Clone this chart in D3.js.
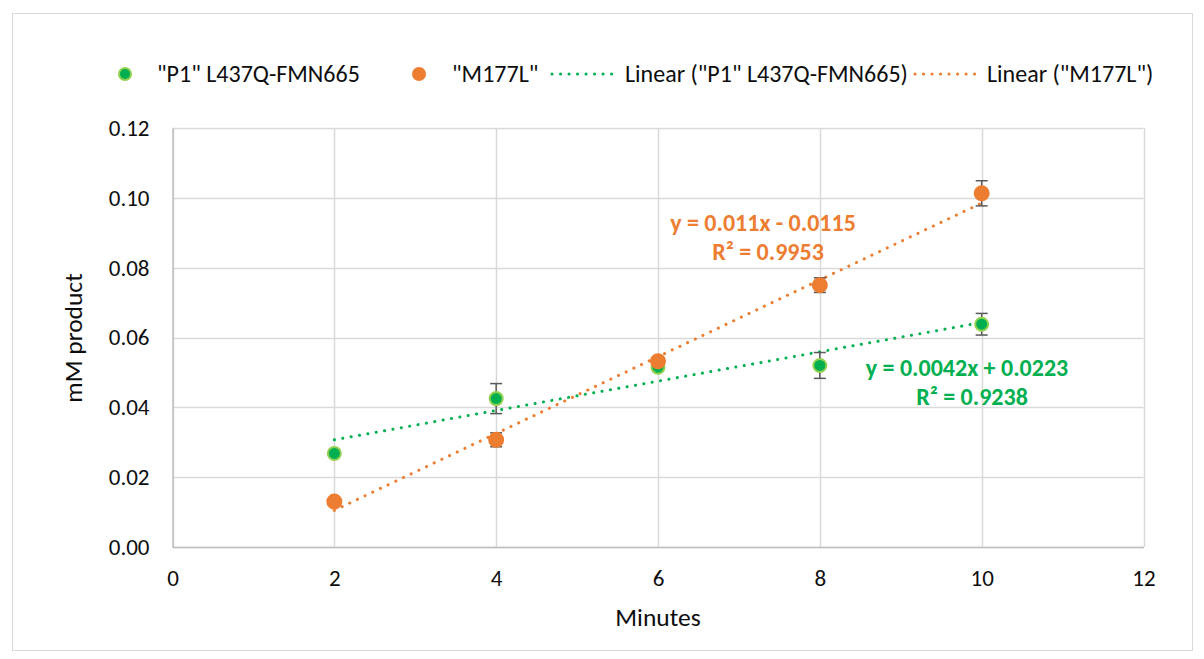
<!DOCTYPE html>
<html><head><meta charset="utf-8">
<script src="https://cdn.jsdelivr.net/npm/d3@7"></script>
<style>body{margin:0;background:#fff;} svg{display:block;} text{font-family:Carlito, Calibri, Lato, "Open Sans", sans-serif;}</style>
</head><body><svg id="c" width="1204" height="659"></svg>
<script>
const minutes = [2, 4, 6, 8, 10];
const p1Values = [0.0268, 0.0425, 0.0515, 0.0520, 0.0638];
const p1Errors = [0.0005, 0.0043, 0.0010, 0.0037, 0.0031];
const m177Values = [0.0130, 0.0307, 0.0532, 0.0750, 0.1013];
const m177Errors = [0.0010, 0.0020, 0.0010, 0.0021, 0.0036];
const xTicks = [0, 2, 4, 6, 8, 10, 12];
const yTicks = [0, 0.02, 0.04, 0.06, 0.08, 0.10, 0.12];
const p1Fit = {slope: 0.0042, intercept: 0.0223, r2: "0.9238"};
const m177Fit = {slope: 0.011, intercept: -0.0115, r2: "0.9953"};
const legendLabels = ['"P1" L437Q-FMN665', '"M177L"', 'Linear ("P1" L437Q-FMN665)', 'Linear ("M177L")'];

const svg = d3.select("#c");
const m = {l: 172.5, r: 1143.5, t: 128, b: 547};
const x = d3.scaleLinear().domain([0, 12]).range([m.l, m.r]);
const y = d3.scaleLinear().domain([0, 0.12]).range([m.b, m.t]);
const green = "#00B050", greenEdge = "#92D050", orange = "#ED7D31", grid = "#d9d9d9", txt = "#0d0d0d";
const tickFont = 23, titleFont = 25.5, legendFont = 24, eqFont = 24;

svg.append("rect").attr("x", 12.5).attr("y", 13.5).attr("width", 1180).attr("height", 637)
  .attr("fill", "#fff").attr("stroke", grid);

// grid
svg.append("g").selectAll("line").data(yTicks).join("line")
  .attr("x1", m.l).attr("x2", m.r).attr("y1", d => Math.round(y(d)) + 0.5).attr("y2", d => Math.round(y(d)) + 0.5)
  .attr("stroke", grid).attr("stroke-width", 1.5);
svg.append("g").selectAll("line").data(xTicks).join("line")
  .attr("y1", m.t).attr("y2", m.b).attr("x1", d => Math.round(x(d)) + 0.5).attr("x2", d => Math.round(x(d)) + 0.5)
  .attr("stroke", grid).attr("stroke-width", 1.5);

// axes
const xAxis = svg.append("g").attr("transform", `translate(0,${m.b})`)
  .call(d3.axisBottom(x).tickValues(xTicks).tickSize(0).tickPadding(23).tickFormat(d3.format("d")));
const yAxis = svg.append("g").attr("transform", `translate(${m.l},0)`)
  .call(d3.axisLeft(y).tickValues(yTicks).tickSize(0).tickPadding(23).tickFormat(d3.format(".2f")));
[xAxis, yAxis].forEach(a => {
  a.select(".domain").attr("stroke", "#bfbfbf").attr("stroke-width", 1.5);
  a.selectAll("text").attr("font-size", tickFont).attr("fill", txt).attr("font-family", "Carlito, Calibri, Lato, sans-serif");
});

svg.append("text").attr("x", 658).attr("y", 626).attr("text-anchor", "middle")
  .attr("font-size", titleFont).attr("fill", txt).text("Minutes");
svg.append("text").attr("transform", "translate(82,338) rotate(-90)").attr("text-anchor", "middle")
  .attr("font-size", titleFont).attr("fill", txt).text("mM product");

// trendlines
function trend(fit, color) {
  svg.append("line")
    .attr("x1", x(2)).attr("y1", y(fit.slope * 2 + fit.intercept))
    .attr("x2", x(10)).attr("y2", y(fit.slope * 10 + fit.intercept))
    .attr("stroke", color).attr("stroke-width", 3).attr("stroke-linecap", "round")
    .attr("stroke-dasharray", "0.1 8.4");
}
trend(p1Fit, green);
trend(m177Fit, orange);

// error bars + markers
function series(vals, errs, fill, edge, r) {
  const g = svg.append("g");
  const d = minutes.map((mi, i) => ({x: mi, y: vals[i], e: errs[i]}));
  const eb = g.append("g").attr("stroke", "#595959").attr("stroke-width", 1.5);
  eb.selectAll(".v").data(d).join("line").attr("x1", p => x(p.x)).attr("x2", p => x(p.x))
    .attr("y1", p => y(p.y - p.e)).attr("y2", p => y(p.y + p.e));
  eb.selectAll(".t").data(d).join("line").attr("x1", p => x(p.x) - 6).attr("x2", p => x(p.x) + 6)
    .attr("y1", p => y(p.y + p.e)).attr("y2", p => y(p.y + p.e));
  eb.selectAll(".b").data(d).join("line").attr("x1", p => x(p.x) - 6).attr("x2", p => x(p.x) + 6)
    .attr("y1", p => y(p.y - p.e)).attr("y2", p => y(p.y - p.e));
  g.selectAll("circle").data(d).join("circle").attr("cx", p => x(p.x)).attr("cy", p => y(p.y))
    .attr("r", r).attr("fill", fill).attr("stroke", edge).attr("stroke-width", 2);
}
series(p1Values, p1Errors, green, greenEdge, 6.5);
series(m177Values, m177Errors, orange, orange, 7);

// equations
function eq(fit, cx, y0, color) {
  const sign = fit.intercept < 0 ? "-" : "+";
  const t = svg.append("g").attr("fill", color).attr("font-weight", "bold").attr("font-size", eqFont).attr("text-anchor", "middle");
  t.append("text").attr("x", cx).attr("y", y0).text(`y = ${fit.slope}x ${sign} ${Math.abs(fit.intercept)}`);
  t.append("text").attr("x", cx + 5).attr("y", y0 + 29).text(`R² = ${fit.r2}`);
}
eq(m177Fit, 763, 231, orange);
eq(p1Fit, 967, 376, green);

// legend
const lg = svg.append("g").attr("font-size", legendFont).attr("fill", txt);
lg.append("circle").attr("cx", 125).attr("cy", 74).attr("r", 6).attr("fill", green).attr("stroke", greenEdge).attr("stroke-width", 2);
lg.append("text").attr("x", 157).attr("y", 82).text(legendLabels[0]);
lg.append("circle").attr("cx", 419).attr("cy", 74).attr("r", 7).attr("fill", orange);
lg.append("text").attr("x", 452).attr("y", 82).text(legendLabels[1]);
lg.append("line").attr("x1", 552).attr("x2", 617).attr("y1", 74).attr("y2", 74).attr("stroke", green)
  .attr("stroke-width", 3).attr("stroke-linecap", "round").attr("stroke-dasharray", "0.1 8.4");
lg.append("text").attr("x", 625).attr("y", 82).text(legendLabels[2]);
lg.append("line").attr("x1", 915).attr("x2", 980).attr("y1", 74).attr("y2", 74).attr("stroke", orange)
  .attr("stroke-width", 3).attr("stroke-linecap", "round").attr("stroke-dasharray", "0.1 8.4");
lg.append("text").attr("x", 987).attr("y", 82).text(legendLabels[3]);
</script></body></html>
